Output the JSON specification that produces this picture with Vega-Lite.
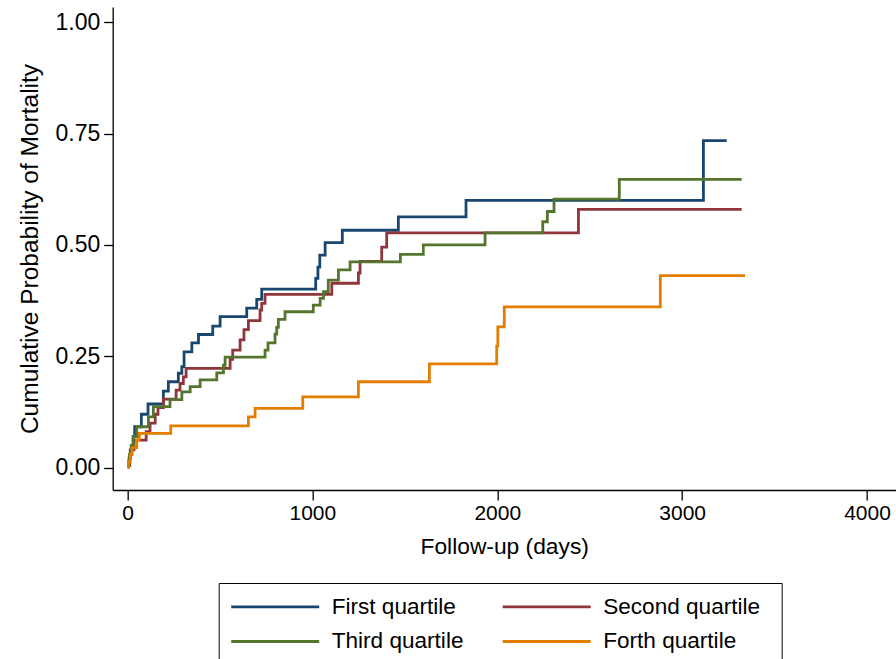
{
  "$schema": "https://vega.github.io/schema/vega-lite/v6.json",
  "width": 783,
  "height": 483,
  "autosize": {"type": "none"},
  "padding": {"left": 112.7, "top": 7, "right": 0, "bottom": 169},
  "background": "white",
  "config": {
    "view": {"stroke": null},
    "font": "Liberation Sans",
    "axis": {"domainColor": "#000000", "tickColor": "#000000", "domainWidth": 1.3, "tickWidth": 1.3, "labelColor": "#000000", "titleColor": "#000000", "titleFontWeight": "normal", "grid": false}
  },
  "data": {
    "values": [
      {"group": "First quartile", "days": 0, "p": 0.005},
      {"group": "First quartile", "days": 12, "p": 0.03},
      {"group": "First quartile", "days": 21, "p": 0.047},
      {"group": "First quartile", "days": 30, "p": 0.07},
      {"group": "First quartile", "days": 39, "p": 0.092},
      {"group": "First quartile", "days": 75, "p": 0.12},
      {"group": "First quartile", "days": 111, "p": 0.143},
      {"group": "First quartile", "days": 194, "p": 0.172},
      {"group": "First quartile", "days": 221, "p": 0.193},
      {"group": "First quartile", "days": 275, "p": 0.212},
      {"group": "First quartile", "days": 294, "p": 0.227},
      {"group": "First quartile", "days": 306, "p": 0.26},
      {"group": "First quartile", "days": 348, "p": 0.28},
      {"group": "First quartile", "days": 384, "p": 0.299},
      {"group": "First quartile", "days": 461, "p": 0.318},
      {"group": "First quartile", "days": 501, "p": 0.339},
      {"group": "First quartile", "days": 645, "p": 0.358},
      {"group": "First quartile", "days": 699, "p": 0.378},
      {"group": "First quartile", "days": 726, "p": 0.401},
      {"group": "First quartile", "days": 1018, "p": 0.425},
      {"group": "First quartile", "days": 1030, "p": 0.45},
      {"group": "First quartile", "days": 1040, "p": 0.477},
      {"group": "First quartile", "days": 1069, "p": 0.505},
      {"group": "First quartile", "days": 1162, "p": 0.533},
      {"group": "First quartile", "days": 1465, "p": 0.563},
      {"group": "First quartile", "days": 1831, "p": 0.6},
      {"group": "First quartile", "days": 3115, "p": 0.734},
      {"group": "First quartile", "days": 3241, "p": 0.734},
      {"group": "Second quartile", "days": 0, "p": 0.005},
      {"group": "Second quartile", "days": 8, "p": 0.02},
      {"group": "Second quartile", "days": 15, "p": 0.04},
      {"group": "Second quartile", "days": 35, "p": 0.062},
      {"group": "Second quartile", "days": 101, "p": 0.081},
      {"group": "Second quartile", "days": 122, "p": 0.1},
      {"group": "Second quartile", "days": 150, "p": 0.12},
      {"group": "Second quartile", "days": 165, "p": 0.135},
      {"group": "Second quartile", "days": 194, "p": 0.154},
      {"group": "Second quartile", "days": 263, "p": 0.174},
      {"group": "Second quartile", "days": 284, "p": 0.189},
      {"group": "Second quartile", "days": 302, "p": 0.204},
      {"group": "Second quartile", "days": 317, "p": 0.223},
      {"group": "Second quartile", "days": 555, "p": 0.243},
      {"group": "Second quartile", "days": 569, "p": 0.264},
      {"group": "Second quartile", "days": 609, "p": 0.287},
      {"group": "Second quartile", "days": 630, "p": 0.31},
      {"group": "Second quartile", "days": 654, "p": 0.33},
      {"group": "Second quartile", "days": 717, "p": 0.354},
      {"group": "Second quartile", "days": 726, "p": 0.369},
      {"group": "Second quartile", "days": 744, "p": 0.389},
      {"group": "Second quartile", "days": 1105, "p": 0.414},
      {"group": "Second quartile", "days": 1249, "p": 0.437},
      {"group": "Second quartile", "days": 1258, "p": 0.463},
      {"group": "Second quartile", "days": 1375, "p": 0.495},
      {"group": "Second quartile", "days": 1402, "p": 0.527},
      {"group": "Second quartile", "days": 2439, "p": 0.58},
      {"group": "Second quartile", "days": 3322, "p": 0.58},
      {"group": "Third quartile", "days": 0, "p": 0.005},
      {"group": "Third quartile", "days": 10, "p": 0.03},
      {"group": "Third quartile", "days": 20, "p": 0.05},
      {"group": "Third quartile", "days": 32, "p": 0.07},
      {"group": "Third quartile", "days": 50, "p": 0.092},
      {"group": "Third quartile", "days": 113, "p": 0.114},
      {"group": "Third quartile", "days": 140, "p": 0.137},
      {"group": "Third quartile", "days": 230, "p": 0.153},
      {"group": "Third quartile", "days": 294, "p": 0.17},
      {"group": "Third quartile", "days": 339, "p": 0.182},
      {"group": "Third quartile", "days": 393, "p": 0.197},
      {"group": "Third quartile", "days": 483, "p": 0.213},
      {"group": "Third quartile", "days": 519, "p": 0.23},
      {"group": "Third quartile", "days": 528, "p": 0.248},
      {"group": "Third quartile", "days": 744, "p": 0.264},
      {"group": "Third quartile", "days": 760, "p": 0.28},
      {"group": "Third quartile", "days": 798, "p": 0.3},
      {"group": "Third quartile", "days": 807, "p": 0.315},
      {"group": "Third quartile", "days": 816, "p": 0.333},
      {"group": "Third quartile", "days": 852, "p": 0.35},
      {"group": "Third quartile", "days": 1005, "p": 0.365},
      {"group": "Third quartile", "days": 1042, "p": 0.38},
      {"group": "Third quartile", "days": 1060, "p": 0.395},
      {"group": "Third quartile", "days": 1086, "p": 0.421},
      {"group": "Third quartile", "days": 1141, "p": 0.444},
      {"group": "Third quartile", "days": 1204, "p": 0.462},
      {"group": "Third quartile", "days": 1476, "p": 0.479},
      {"group": "Third quartile", "days": 1600, "p": 0.5},
      {"group": "Third quartile", "days": 1934, "p": 0.527},
      {"group": "Third quartile", "days": 2246, "p": 0.552},
      {"group": "Third quartile", "days": 2271, "p": 0.575},
      {"group": "Third quartile", "days": 2307, "p": 0.603},
      {"group": "Third quartile", "days": 2660, "p": 0.647},
      {"group": "Third quartile", "days": 3322, "p": 0.647},
      {"group": "Forth quartile", "days": 0, "p": 0.0},
      {"group": "Forth quartile", "days": 5, "p": 0.013},
      {"group": "Forth quartile", "days": 15, "p": 0.03},
      {"group": "Forth quartile", "days": 25, "p": 0.045},
      {"group": "Forth quartile", "days": 50, "p": 0.062},
      {"group": "Forth quartile", "days": 64, "p": 0.077},
      {"group": "Forth quartile", "days": 234, "p": 0.094},
      {"group": "Forth quartile", "days": 654, "p": 0.114},
      {"group": "Forth quartile", "days": 690, "p": 0.133},
      {"group": "Forth quartile", "days": 948, "p": 0.159},
      {"group": "Forth quartile", "days": 1249, "p": 0.193},
      {"group": "Forth quartile", "days": 1633, "p": 0.233},
      {"group": "Forth quartile", "days": 1997, "p": 0.273},
      {"group": "Forth quartile", "days": 2003, "p": 0.316},
      {"group": "Forth quartile", "days": 2038, "p": 0.361},
      {"group": "Forth quartile", "days": 2882, "p": 0.431},
      {"group": "Forth quartile", "days": 3340, "p": 0.431}
    ]
  },
  "mark": {"type": "line", "interpolate": "step-after", "strokeWidth": 2.8, "strokeJoin": "miter"},
  "encoding": {
    "x": {
      "field": "days", "type": "quantitative",
      "scale": {"domain": [-80, 4155], "nice": false, "zero": false},
      "axis": {"values": [0, 1000, 2000, 3000, 4000], "format": "d", "title": "Follow-up (days)", "labelFontSize": 21, "titleFontSize": 22.8, "tickSize": 10, "labelPadding": 3, "titlePadding": 12, "labelFlush": false}
    },
    "y": {
      "field": "p", "type": "quantitative",
      "scale": {"domain": [-0.05, 1.034], "nice": false, "zero": false},
      "axis": {"values": [0, 0.25, 0.5, 0.75, 1], "format": ".2f", "title": "Cumulative Probability of Mortality", "labelFontSize": 23, "titleFontSize": 24.5, "tickSize": 9, "labelPadding": 4, "titlePadding": 12, "labelFlush": false}
    },
    "color": {
      "field": "group", "type": "nominal",
      "scale": {"domain": ["First quartile", "Second quartile", "Third quartile", "Forth quartile"], "range": ["#1a476f", "#90353b", "#55752f", "#e37e00"]},
      "legend": {
        "title": "\u2800", "titleOrient": "right", "titleFontSize": 8, "titlePadding": 4,
        "orient": "none", "legendX": 106, "legendY": 576,
        "direction": "horizontal",
        "columns": 2, "columnPadding": 32.5, "rowPadding": 10,
        "symbolType": "M-1,0H7", "symbolSize": 484, "symbolStrokeWidth": 2.8,
        "labelFontSize": 22.6, "labelColor": "#000000", "labelOffset": 77, "labelLimit": 320,
        "padding": 11, "strokeColor": "#000000", "fillColor": "#ffffff"
      }
    }
  }
}
